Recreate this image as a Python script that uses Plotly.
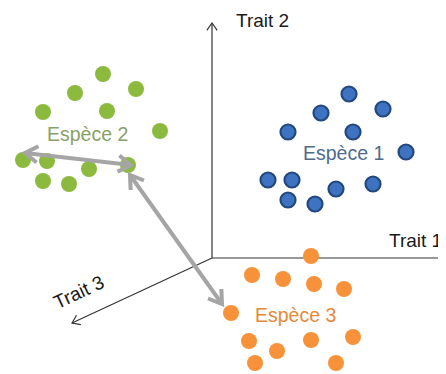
import math
import plotly.graph_objects as go

# Point positions (image-space units: x to the right, y downward)
sp1_x = [349, 321, 383, 288, 353, 406, 268, 292, 336, 373, 288, 315]
sp1_y = [94, 113, 109, 132, 132, 152, 180, 180, 189, 184, 200, 204]
sp2_x = [103, 75, 136, 43, 107, 160, 23, 47, 89, 128, 43, 69]
sp2_y = [74, 93, 89, 112, 111, 131, 160, 161, 169, 165, 181, 184]
sp3_x = [311, 252, 283, 314, 344, 231, 249, 277, 311, 353, 255, 336]
sp3_y = [256, 275, 279, 284, 289, 313, 341, 351, 340, 337, 363, 363]

species_labels = ["Espèce 1", "Espèce 2", "Espèce 3"]
axis_labels = ["Trait 1", "Trait 2", "Trait 3"]

# Trait axes: origin and end points
origin = (212, 258)
axis_ends = [(446, 258), (212, 23), (72, 323)]

# Distance arrows (between species)
dist_arrows = [((25, 153), (131, 165)), ((130, 175), (222, 304))]

W, H = 446, 374
PAGE_OFFSET = 8  # default body margin of the html page
fig = go.Figure()


def chevron(p_from, p_to, length, ang_deg):
    dx, dy = p_to[0] - p_from[0], p_to[1] - p_from[1]
    n = math.hypot(dx, dy)
    ux, uy = dx / n, dy / n
    a = math.radians(ang_deg)
    pts = []
    for s in (1, -1):
        c, si = math.cos(s * a), math.sin(s * a)
        rx = ux * c - uy * si
        ry = ux * si + uy * c
        pts.append((p_to[0] - length * rx, p_to[1] - length * ry))
    return [pts[0][0], p_to[0], pts[1][0]], [pts[0][1], p_to[1], pts[1][1]]


def add_line(xs, ys, color, width):
    fig.add_trace(go.Scatter(x=xs, y=ys, mode="lines", hoverinfo="skip",
                             line=dict(color=color, width=width), showlegend=False))


# Species 2 (green) points first (arrows overlay them)
fig.add_trace(go.Scatter(x=sp2_x, y=sp2_y, mode="markers", name=species_labels[1],
                         marker=dict(size=16, color="#8cba3e", line=dict(width=0)),
                         showlegend=False))

# Trait axes
for end in axis_ends:
    add_line([origin[0], end[0]], [origin[1], end[1]], "#333333", 1.2)
    cx, cy = chevron(origin, end, 9, 35)
    add_line(cx, cy, "#333333", 1.2)

# Distance arrows (double headed, grey)
for a, b in dist_arrows:
    add_line([a[0], b[0]], [a[1], b[1]], "#a5a5a5", 4)
    cx, cy = chevron(a, b, 15, 33)
    add_line(cx, cy, "#a5a5a5", 4)
    cx, cy = chevron(b, a, 15, 33)
    add_line(cx, cy, "#a5a5a5", 4)

fig.add_trace(go.Scatter(x=sp1_x, y=sp1_y, mode="markers", name=species_labels[0],
                         marker=dict(size=15, color="#3d73c1", line=dict(width=2.2, color="#23487e")),
                         showlegend=False))
fig.add_trace(go.Scatter(x=sp3_x, y=sp3_y, mode="markers", name=species_labels[2],
                         marker=dict(size=16, color="#f7923a", line=dict(width=0)),
                         showlegend=False))

font_family = "Liberation Sans, Arial, sans-serif"
annots = [
    dict(x=343, y=153, text=species_labels[0], font=dict(size=19.5, color="#4d6b8c")),
    dict(x=87, y=134, text=species_labels[1], font=dict(size=19.5, color="#8aa06a")),
    dict(x=295, y=315, text=species_labels[2], font=dict(size=19.5, color="#e4893a")),
    dict(x=444, y=240, text=axis_labels[0], xanchor="right", font=dict(size=19, color="#1a1a1a")),
    dict(x=262, y=20, text=axis_labels[1], font=dict(size=19, color="#1a1a1a")),
    dict(x=78, y=292, text=axis_labels[2], textangle=-25, font=dict(size=19, color="#1a1a1a")),
]
for a in annots:
    a.setdefault("xanchor", "center")
    a["yanchor"] = "middle"
    a["showarrow"] = False
    a["font"]["family"] = font_family
    fig.add_annotation(**a)

fig.update_layout(
    width=W, height=H,
    margin=dict(l=0, r=0, t=0, b=0),
    paper_bgcolor="white", plot_bgcolor="white",
    xaxis=dict(range=[PAGE_OFFSET, W + PAGE_OFFSET], visible=False, fixedrange=True),
    yaxis=dict(range=[H + PAGE_OFFSET, PAGE_OFFSET], visible=False, fixedrange=True),
    showlegend=False,
)

fig.write_html("out.html", config={"displayModeBar": False})
